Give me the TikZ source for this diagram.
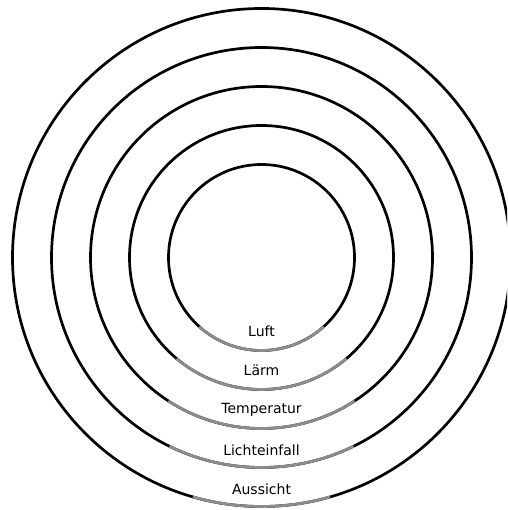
\documentclass[tikz,border=0pt]{standalone}
\usepackage{fontspec}
\setmainfont{DejaVu Sans}
\usepackage{tikz}

\begin{document}
\begin{tikzpicture}[x=1pt, y=1pt,
    ring/.style={circle, draw=black, line width=2.7pt, outer sep=0pt, inner sep=0pt},
    grayarc/.style={draw=gray!90, line width=2.7pt},
    lbl/.style={font=\fontsize{14}{16}\selectfont, inner sep=0pt, anchor=base}]
    \useasboundingbox (0,0) rectangle (507,510);
    \clip (0,0) rectangle (507,510);
    \coordinate (c) at (261.5,252.5);

    % Draw rings
    \node[ring, minimum size=186pt] (luft) at (c) {};
    \node[ring, minimum size=264pt] (laerm) at (c) {};
    \node[ring, minimum size=342pt] (temp) at (c) {};
    \node[ring, minimum size=420pt] (licht) at (c) {};
    \node[ring, minimum size=498pt] (aussicht) at (c) {};

    % Draw gray arcs
    \draw[grayarc] (luft.228) arc[start angle=228, end angle=312, radius=93pt];
    \draw[grayarc] (laerm.230) arc[start angle=230, end angle=310, radius=132pt];
    \draw[grayarc] (temp.237) arc[start angle=237, end angle=303, radius=171pt];
    \draw[grayarc] (licht.244) arc[start angle=244, end angle=296, radius=210pt];
    \draw[grayarc] (aussicht.254) arc[start angle=254, end angle=286, radius=249pt];

    % Labels
    \node[lbl] (luftlbl) at ([yshift=14pt]luft.south) {Luft};
    \node[lbl] (laermlbl) at ([yshift=14pt]laerm.south) {Lärm};
    \node[lbl] (templbl) at ([yshift=15pt]temp.south) {Temperatur};
    \node[lbl] (lichtlbl) at ([yshift=12pt]licht.south) {Lichteinfall};
    \node[lbl] (aussichtlbl) at ([yshift=12pt]aussicht.south) {Aussicht};
\end{tikzpicture}
\end{document}
